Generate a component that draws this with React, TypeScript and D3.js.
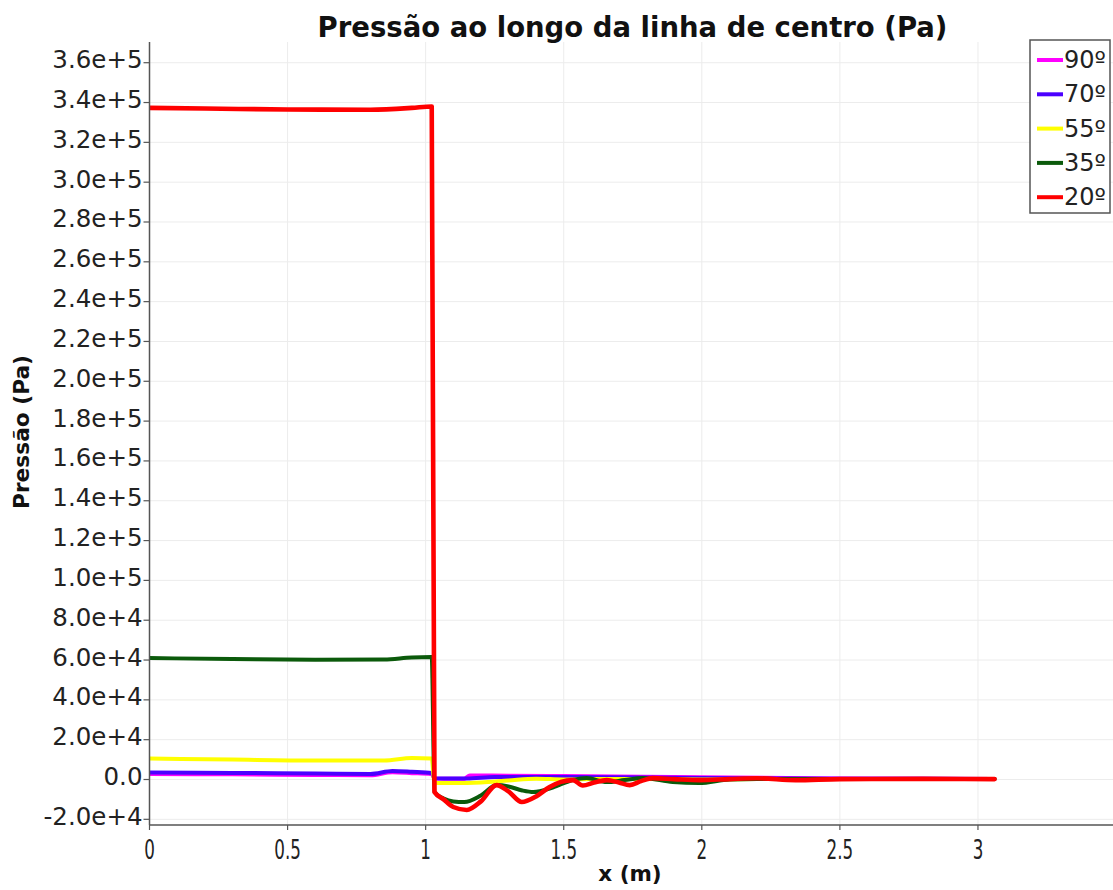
import React from "react";
import * as d3 from "d3";

// ---- data ----
const SERIES_NAMES = ["90º", "70º", "55º", "35º", "20º"];
const SERIES_COLORS = ["#ff00ff", "#4b00ff", "#ffff00", "#0b5a0b", "#ff0000"];

const x90 = [0, 0.3, 0.6, 0.8, 0.88, 0.95, 1.022, 1.032, 1.1, 1.14, 1.16, 1.3, 1.5, 2.0, 2.5, 3.06];
const p90 = [2800, 2600, 2300, 2100, 3600, 3200, 2700, 500, 400, 400, 2000, 1900, 1700, 1100, 500, 300];

const x70 = [0, 0.3, 0.6, 0.8, 0.88, 0.95, 1.022, 1.032, 1.1, 1.15, 1.25, 1.5, 2.0, 2.5, 3.06];
const p70 = [3500, 3300, 3000, 2800, 4300, 3900, 3300, 600, 500, 500, 1200, 1200, 700, 400, 300];

const x55 = [0, 0.3, 0.6, 0.85, 0.95, 1.022, 1.032, 1.1, 1.2, 1.3, 1.4, 1.5, 1.6, 1.8, 2.0, 2.2, 2.5, 3.06];
const p55 = [10500, 10000, 9600, 9600, 10800, 10500, -1800, -1800, -1500, -500, 400, 0, 300, 200, 0, 300, 200, 200];

const x35 = [0, 0.3, 0.6, 0.85, 0.95, 1.022, 1.032, 1.065, 1.1, 1.14, 1.2, 1.257, 1.3, 1.35, 1.39, 1.46, 1.533, 1.583, 1.656, 1.72, 1.786, 1.895, 1.99, 2.1, 2.2, 2.5, 3.06];
const p35 = [61000, 60500, 60200, 60300, 61300, 61500, -6300, -9500, -11000, -11300, -8000, -2800, -3500, -5500, -6300, -4000, -250, 750, -1300, -300, 750, -1300, -1800, 0, 300, 200, 200];

const x20 = [0, 0.2, 0.5, 0.8, 0.95, 1.022, 1.032, 1.065, 1.1, 1.149, 1.2, 1.257, 1.3, 1.348, 1.4, 1.449, 1.49, 1.533, 1.569, 1.61, 1.656, 1.7, 1.739, 1.78, 1.822, 1.9, 1.993, 2.1, 2.2, 2.34, 2.5, 2.8, 3.06];
const p20 = [337300, 337000, 336500, 336400, 337300, 338000, -6300, -10000, -13800, -15300, -11000, -2800, -6000, -11300, -8500, -3800, -1200, -300, -3000, -1500, -300, -1500, -2800, -800, 700, 200, -300, 200, 600, -300, 200, 300, 200];

const SERIES_X = [x90, x70, x55, x35, x20];
const SERIES_P = [p90, p70, p55, p35, p20];

const X_TICKS = [0, 0.5, 1, 1.5, 2, 2.5, 3];
const X_TICK_LABELS = ["0", "0.5", "1", "1.5", "2", "2.5", "3"];
const Y_TICKS = [-2e4, 0, 2e4, 4e4, 6e4, 8e4, 1e5, 1.2e5, 1.4e5, 1.6e5, 1.8e5, 2e5, 2.2e5, 2.4e5, 2.6e5, 2.8e5, 3e5, 3.2e5, 3.4e5, 3.6e5];
const Y_TICK_LABELS = ["-2.0e+4", "0.0", "2.0e+4", "4.0e+4", "6.0e+4", "8.0e+4", "1.0e+5", "1.2e+5", "1.4e+5", "1.6e+5", "1.8e+5", "2.0e+5", "2.2e+5", "2.4e+5", "2.6e+5", "2.8e+5", "3.0e+5", "3.2e+5", "3.4e+5", "3.6e+5"];

const TITLE = "Pressão ao longo da linha de centro (Pa)";
const X_LABEL = "x (m)";
const Y_LABEL = "Pressão (Pa)";

// ---- layout ----
const W = 1113;
const H = 890;
const L = 149.5, R = 1113, T = 42, B = 825;
const FONT = "'DejaVu Sans', sans-serif";

export default function App() {
  const x = d3.scaleLinear().domain([0, 3.489]).range([L, R]);
  const y = d3.scaleLinear().domain([-22850, 370400]).range([B, T]);
  const line = d3
    .line<[number, number]>()
    .x((d) => x(d[0]))
    .y((d) => y(d[1]))
    .curve(d3.curveMonotoneX);

  return (
    <svg
      width={W}
      height={H}
      style={{ position: "absolute", left: 0, top: 0, background: "#fff" }}
    >
      <defs>
        <clipPath id="plot">
          <rect x={L} y={T} width={R - L} height={B - T} />
        </clipPath>
      </defs>
      <rect x={0} y={0} width={W} height={H} fill="#fff" />

      {/* grid */}
      {Y_TICKS.map((v) => (
        <line key={"gy" + v} x1={L} x2={R} y1={y(v)} y2={y(v)} stroke="#ececec" strokeWidth={1} />
      ))}
      {X_TICKS.filter((v) => v > 0).map((v) => (
        <line key={"gx" + v} x1={x(v)} x2={x(v)} y1={T} y2={B} stroke="#ececec" strokeWidth={1} />
      ))}

      {/* series */}
      <g clipPath="url(#plot)">
        {SERIES_X.map((xs, i) => {
          const pts = xs.map((xv, j) => [xv, SERIES_P[i][j]] as [number, number]);
          return (
            <path
              key={SERIES_NAMES[i]}
              d={line(pts) || ""}
              fill="none"
              stroke={SERIES_COLORS[i]}
              strokeWidth={i === 4 ? 4.6 : 4}
              strokeLinejoin="round"
              strokeLinecap="round"
            />
          );
        })}
      </g>

      {/* axes */}
      <line x1={L} x2={L} y1={T} y2={B} stroke="#555" strokeWidth={1.5} />
      <line x1={L} x2={R} y1={B} y2={B} stroke="#555" strokeWidth={1.5} />

      {Y_TICKS.map((v, i) => (
        <g key={"yt" + v}>
          <line x1={L - 6} x2={L} y1={y(v)} y2={y(v)} stroke="#555" strokeWidth={1.2} />
          <text
            x={L - 7}
            y={y(v) - 3}
            textAnchor="end"
            dominantBaseline="central"
            fontFamily={FONT}
            fontSize={24.5}
            fill="#222"
          >
            {Y_TICK_LABELS[i]}
          </text>
        </g>
      ))}

      {X_TICKS.map((v, i) => (
        <g key={"xt" + v}>
          <line x1={x(v)} x2={x(v)} y1={B} y2={B + 5} stroke="#555" strokeWidth={1.2} />
          <text
            transform={`translate(${x(v)},859) scale(0.62,1)`}
            textAnchor="middle"
            fontFamily={FONT}
            fontSize={27}
            fill="#222"
          >
            {X_TICK_LABELS[i]}
          </text>
        </g>
      ))}

      {/* titles */}
      <text
        x={632.5}
        y={37}
        textAnchor="middle"
        fontFamily={FONT}
        fontWeight="bold"
        fontSize={27.5}
        fill="#111"
      >
        {TITLE}
      </text>
      <text
        x={630}
        y={881}
        textAnchor="middle"
        fontFamily={FONT}
        fontWeight="bold"
        fontSize={21.5}
        fill="#111"
      >
        {X_LABEL}
      </text>
      <text
        transform="translate(29,432) rotate(-90)"
        textAnchor="middle"
        fontFamily={FONT}
        fontWeight="bold"
        fontSize={21.7}
        fill="#111"
      >
        {Y_LABEL}
      </text>

      {/* legend */}
      <rect x={1030} y={40} width={80} height={173} fill="#fff" stroke="#555" strokeWidth={1.5} />
      {SERIES_NAMES.map((n, i) => {
        const cy = 60 + i * 34.3;
        return (
          <g key={"lg" + n}>
            <line x1={1037} x2={1063} y1={cy} y2={cy} stroke={SERIES_COLORS[i]} strokeWidth={4} />
            <text
              x={1064}
              y={cy}
              dominantBaseline="central"
              fontFamily={FONT}
              fontSize={24}
              fill="#222"
            >
              {n}
            </text>
          </g>
        );
      })}
    </svg>
  );
}
